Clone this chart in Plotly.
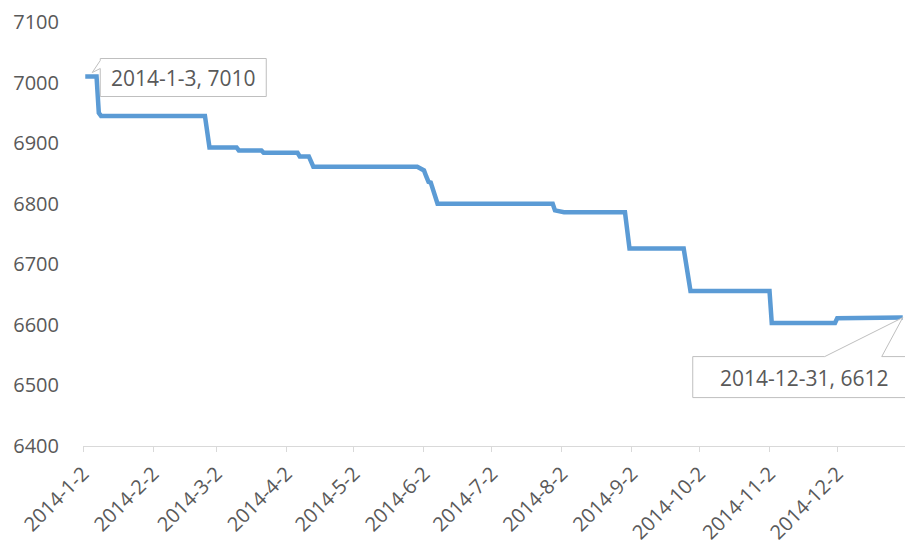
import plotly.graph_objects as go

# ---- data ----
dates = [
    "2014-01-03", "2014-01-08", "2014-01-09", "2014-01-10",
    "2014-02-25", "2014-02-27",
    "2014-03-11", "2014-03-12",
    "2014-03-22", "2014-03-23",
    "2014-04-07", "2014-04-08",
    "2014-04-12", "2014-04-14",
    "2014-05-30", "2014-06-02", "2014-06-03", "2014-06-04", "2014-06-05", "2014-06-08",
    "2014-07-29", "2014-07-30", "2014-08-03",
    "2014-08-30", "2014-09-01",
    "2014-09-25", "2014-09-28",
    "2014-11-02", "2014-11-03",
    "2014-12-01", "2014-12-02", "2014-12-31",
]
values = [
    7010, 7010, 6950, 6945,
    6945, 6893,
    6893, 6888,
    6888, 6884,
    6884, 6878,
    6878, 6861,
    6861, 6855, 6845, 6836, 6835, 6800,
    6800, 6789, 6786,
    6786, 6726,
    6726, 6656,
    6656, 6603,
    6603, 6611, 6612,
]
tick_dates = ["2014-%02d-02" % m for m in range(1, 13)]
tick_labels = ["2014-%d-2" % m for m in range(1, 13)]
y_ticks = [6400, 6500, 6600, 6700, 6800, 6900, 7000, 7100]
first_label = "2014-1-3, 7010"
last_label = "2014-12-31, 6612"

TEXT = "#595959"
FONT = "Open Sans"

fig = go.Figure()
fig.add_trace(go.Scatter(
    x=dates, y=values, mode="lines",
    line=dict(color="#5B9BD5", width=4.5),
    hoverinfo="skip",
))


def callout_path(left, right, top, bottom, wedge):
    # screen-style offsets (y down) -> pixel offsets (y up)
    b1, b2, ax, ay = wedge["b1"], wedge["b2"], wedge["ax"], wedge["ay"]
    if wedge["side"] == "top":
        pts = [(left, top), (b1, top), (ax, ay), (b2, top), (right, top), (right, bottom), (left, bottom)]
    else:
        pts = [(left, top), (right, top), (right, bottom), (left, bottom), (left, b2), (ax, ay), (left, b1)]
    return "M " + " L ".join("%g,%g" % (px, -py) for px, py in pts) + " Z"


# first callout
fig.add_shape(
    type="path", xref="x", yref="y",
    xsizemode="pixel", ysizemode="pixel",
    xanchor=dates[0], yanchor=values[0],
    path=callout_path(15, 181, -18, 20, dict(side="left", b1=-16, b2=-8, ax=7, ay=-4)),
    line=dict(color="#BFBFBF", width=1), fillcolor="white", layer="above",
)
fig.add_annotation(
    x=dates[0], y=values[0], text=first_label, showarrow=False,
    xshift=98, yshift=-1, font=dict(family=FONT, size=21, color=TEXT),
)

# last callout
fig.add_shape(
    type="path", xref="x", yref="y",
    xsizemode="pixel", ysizemode="pixel",
    xanchor=dates[-1], yanchor=values[-1],
    path=callout_path(-210, 18, 39, 80, dict(side="top", b1=-78, b2=-21, ax=0, ay=0)),
    line=dict(color="#BFBFBF", width=1), fillcolor="white", layer="above",
)
fig.add_annotation(
    x=dates[-1], y=values[-1], text=last_label, showarrow=False,
    xshift=-98, yshift=-60, font=dict(family=FONT, size=21, color=TEXT),
)

fig.update_layout(
    width=910, height=546,
    margin=dict(l=83, r=5, t=22, b=100),
    plot_bgcolor="white", paper_bgcolor="white",
    showlegend=False,
    font=dict(family=FONT, size=20, color=TEXT),
)
fig.update_xaxes(
    type="date", range=["2014-01-02", "2015-01-01"],
    tickmode="array", tickvals=tick_dates, ticktext=tick_labels,
    tickangle=-45, showgrid=False, zeroline=False,
    showline=True, linecolor="#D9D9D9", linewidth=1,
    ticks="outside", ticklen=5, tickcolor="#D9D9D9", tickwidth=1,
    ticklabelstandoff=2, automargin=False,
    tickfont=dict(family=FONT, size=20, color=TEXT),
)
fig.update_yaxes(
    range=[6400, 7100], tickmode="array", tickvals=y_ticks,
    showgrid=False, zeroline=False, showline=False,
    ticklabelstandoff=23, automargin=False,
    tickfont=dict(family=FONT, size=20, color=TEXT),
)

fig.write_html("out.html", config={"displayModeBar": False},
               post_script="document.body.style.margin='0';")
